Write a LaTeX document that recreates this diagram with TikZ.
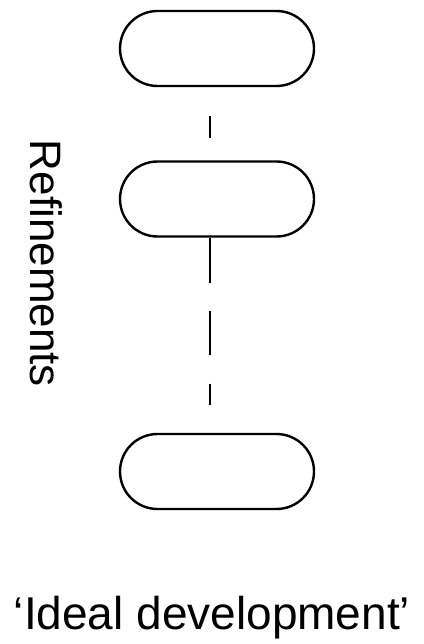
\documentclass[tikz,border=0pt]{standalone}
\usepackage{fontspec}
\setmainfont{Liberation Sans}
\begin{document}
\begin{tikzpicture}[x=1pt,y=-1pt,
  stadium/.style={draw, line width=2.4pt, minimum width=194pt, minimum height=75pt, rounded corners=37.5pt, inner sep=0pt},
  link/.style={line width=1.2pt},
  lbl/.style={inner sep=0pt}]
\useasboundingbox (0,0) rectangle (423,644);
\node[stadium] (s1) at (217,48.5) {};
\node[stadium] (s2) at (217,199) {};
\node[stadium] (s3) at (217,471.5) {};
\coordinate (cx) at (210,0);
\draw[link, dash pattern=on 22pt off 52pt, dash phase=45pt] (s1.south -| cx) -- (s2.north -| cx);
\draw[link, dash pattern=on 45pt off 28pt on 44pt off 29pt on 21pt off 29pt] (s2.south -| cx) -- (s3.north -| cx);
\node[lbl, font=\fontsize{44}{52}\selectfont, rotate=-90, anchor=base] (ref) at (30,263.5) {Refinements};
\node[lbl, font=\fontsize{46}{54}\selectfont, anchor=base] (ideal) at (212,629) {‘Ideal development’};
\end{tikzpicture}
\end{document}
